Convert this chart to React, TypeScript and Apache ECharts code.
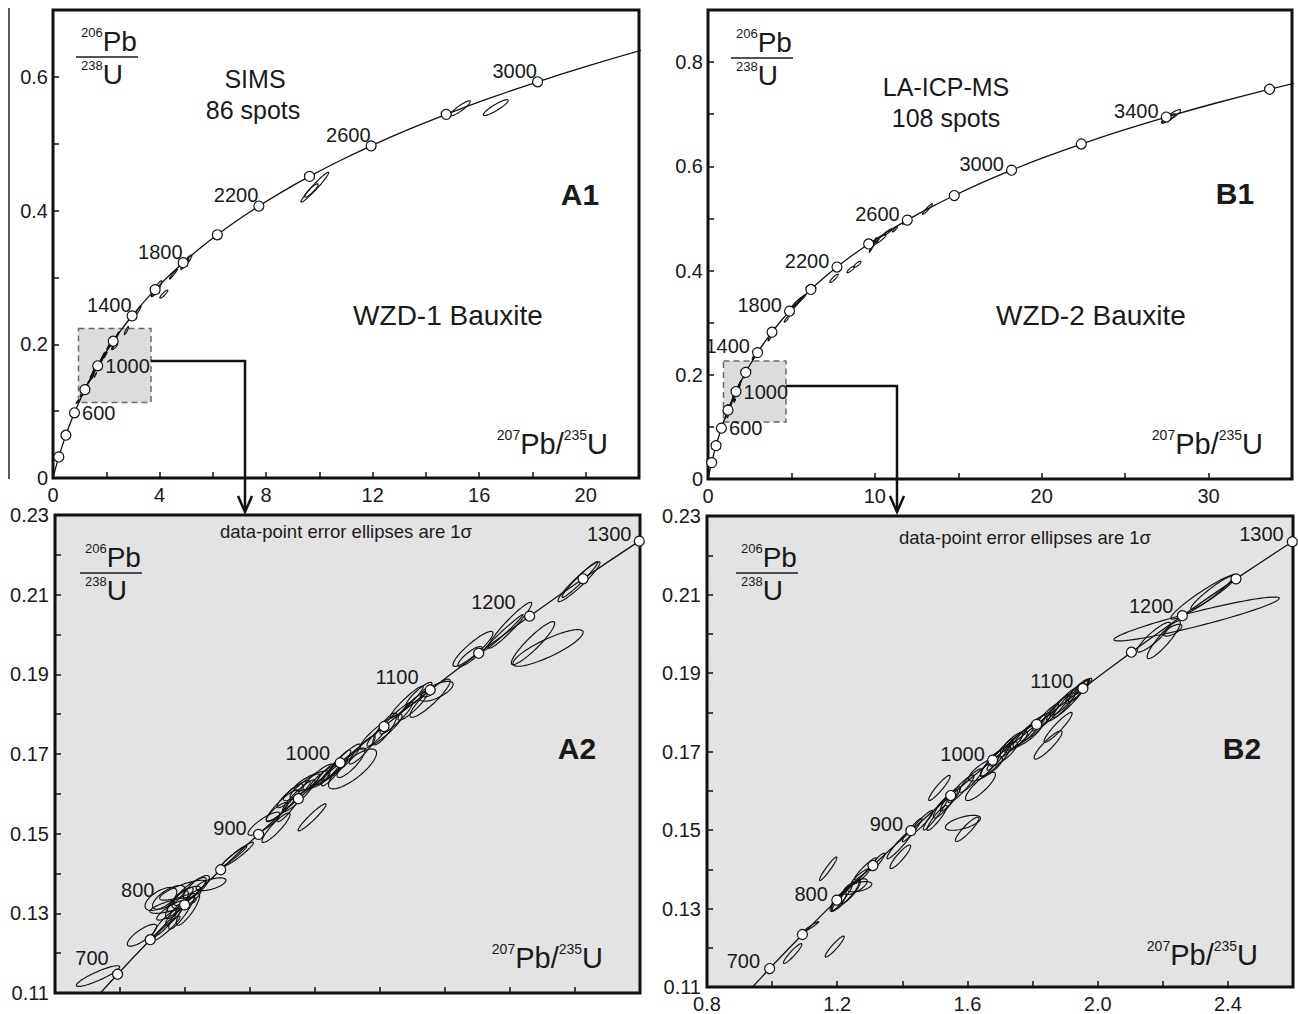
import React, { useEffect, useRef } from 'react';
import * as echarts from 'echarts';

const FONT = '"Liberation Sans", Arial, Helvetica, sans-serif';
const INK = '#1a1a1a';

// ---- Concordia reference points (age in Ma, 207Pb/235U, 206Pb/238U) ----
const concordiaAges = [0, 100, 200, 300, 400, 500, 600, 650, 700, 750, 800, 850, 900, 950, 1000, 1050, 1100, 1150, 1200, 1250, 1300, 1350, 1400, 1500, 1600, 1700, 1800, 1900, 2000, 2100, 2200, 2300, 2400, 2500, 2600, 2700, 2800, 2900, 3000, 3100, 3200, 3300, 3400, 3500, 3600, 3700, 3800];
const concordiaPb207U235 = [0, 0.1035, 0.21771, 0.34374, 0.48281, 0.63628, 0.80567, 0.89677, 0.99251, 1.09308, 1.19873, 1.30971, 1.4263, 1.54876, 1.67738, 1.81255, 1.9545, 2.10365, 2.26026, 2.42487, 2.59786, 2.77933, 2.9701, 3.38099, 3.83444, 4.33476, 4.88688, 5.49618, 6.16876, 6.91045, 7.7292, 8.63262, 9.6296, 10.7297, 11.9435, 13.2833, 14.7617, 16.3929, 18.1931, 20.1795, 22.3715, 24.7905, 27.4598, 30.4052, 33.6557, 37.2424, 41.2004];
const concordiaPb206U238 = [0, 0.015633, 0.031511, 0.047638, 0.064016, 0.08065, 0.097544, 0.10609, 0.114702, 0.123382, 0.132129, 0.140944, 0.149829, 0.158781, 0.167804, 0.176897, 0.186061, 0.195296, 0.204603, 0.213982, 0.223435, 0.232961, 0.242562, 0.261987, 0.281716, 0.301754, 0.322104, 0.342773, 0.363766, 0.385087, 0.40674, 0.428732, 0.451068, 0.473752, 0.496794, 0.520193, 0.543959, 0.568097, 0.592611, 0.617508, 0.642797, 0.668478, 0.694563, 0.721056, 0.747962, 0.775288, 0.803042];

const overviewMarkerAges = [200, 400, 600, 800, 1000, 1200, 1400, 1600, 1800, 2000, 2200, 2400, 2600, 2800, 3000, 3200, 3400, 3600];
const zoomMarkerAges = [700, 750, 800, 850, 900, 950, 1000, 1050, 1100, 1150, 1200, 1250, 1300];
const a1LabelAges = [600, 1000, 1400, 1800, 2200, 2600, 3000];
const b1LabelAges = [600, 1000, 1400, 1800, 2200, 2600, 3000, 3400];
const zoomLabelAges = [700, 800, 900, 1000, 1100, 1200, 1300];

// ---- Error ellipses: [207Pb/235U, 206Pb/238U, sigma x, sigma y, rho] ----
const wzd1ZoomSpots = [
  [0.9323, 0.11425, 0.0667, 0.0026, 0.89],
  [1.0677, 0.1245, 0.0452, 0.00275, 0.8],
  [1.1446, 0.12625, 0.04, 0.003, 0.95],
  [1.126, 0.1336, 0.049, 0.0029, 0.6],
  [1.163, 0.132, 0.071, 0.002, 0.75],
  [1.194, 0.1358, 0.072, 0.0025, 0.8],
  [1.159, 0.1308, 0.046, 0.0025, 0.85],
  [1.209, 0.131, 0.036, 0.004, 0.85],
  [1.138, 0.1275, 0.037, 0.0033, 0.9],
  [1.185, 0.1335, 0.04, 0.003, 0.85],
  [1.175, 0.1322, 0.035, 0.0035, 0.8],
  [1.205, 0.134, 0.045, 0.0028, 0.7],
  [1.17, 0.13, 0.03, 0.003, 0.9],
  [1.215, 0.1355, 0.05, 0.0035, 0.85],
  [1.19, 0.1305, 0.04, 0.0045, 0.9],
  [1.15, 0.134, 0.05, 0.003, 0.7],
  [1.235, 0.1365, 0.04, 0.003, 0.8],
  [1.28, 0.1373, 0.046, 0.0016, 0.6],
  [1.3615, 0.14475, 0.049, 0.0031, 0.95],
  [1.35, 0.1443, 0.04, 0.0026, 0.97],
  [1.443, 0.1525, 0.049, 0.0029, 0.85],
  [1.48, 0.1515, 0.043, 0.0037, 0.9],
  [1.483, 0.1555, 0.033, 0.0023, 0.85],
  [1.5, 0.157, 0.05, 0.004, 0.9],
  [1.52, 0.1565, 0.035, 0.0035, 0.93],
  [1.523, 0.1595, 0.04, 0.003, 0.9],
  [1.544, 0.16075, 0.041, 0.0025, 0.85],
  [1.55, 0.1595, 0.05, 0.004, 0.92],
  [1.591, 0.1541, 0.043, 0.0034, 0.95],
  [1.569, 0.162, 0.046, 0.003, 0.9],
  [1.609, 0.16425, 0.046, 0.0032, 0.9],
  [1.64, 0.16525, 0.037, 0.003, 0.9],
  [1.591, 0.16325, 0.055, 0.0025, 0.8],
  [1.7154, 0.16625, 0.074, 0.005, 0.8],
  [1.711, 0.1678, 0.043, 0.0037, 0.85],
  [1.631, 0.1645, 0.046, 0.003, 0.9],
  [1.66, 0.166, 0.04, 0.0028, 0.92],
  [1.69, 0.1685, 0.05, 0.004, 0.92],
  [1.665, 0.1665, 0.045, 0.0045, 0.93],
  [1.745, 0.171, 0.04, 0.0035, 0.9],
  [1.803, 0.1756, 0.065, 0.0044, 0.9],
  [1.815, 0.1763, 0.037, 0.004, 0.85],
  [1.79, 0.1745, 0.03, 0.0025, 0.9],
  [1.85, 0.179, 0.05, 0.004, 0.93],
  [1.882, 0.18305, 0.051, 0.004, 0.95],
  [1.9, 0.182, 0.045, 0.0035, 0.9],
  [1.954, 0.184, 0.062, 0.0048, 0.9],
  [1.974, 0.18575, 0.051, 0.0025, 0.7],
  [1.948, 0.1856, 0.0215, 0.00125, 0.5],
  [1.92, 0.185, 0.04, 0.003, 0.9],
  [2.086, 0.19638, 0.0615, 0.0044, 0.9],
  [2.077, 0.1945, 0.037, 0.0025, 0.85],
  [2.2, 0.20233, 0.0667, 0.00575, 0.95],
  [2.18, 0.2005, 0.06, 0.0045, 0.99],
  [2.2708, 0.19783, 0.0667, 0.0054, 0.92],
  [2.317, 0.19663, 0.108, 0.0046, 0.85],
  [2.4123, 0.21325, 0.0646, 0.005, 0.95],
  [2.415, 0.2138, 0.055, 0.0045, 0.97],
];
const wzd1OlderSpots = [
  [5.01, 0.3234, 0.2, 0.01, 0.9],
  [4.95, 0.32, 0.15, 0.008, 0.95],
  [4.52, 0.305, 0.15, 0.0075, 0.97],
  [3.89, 0.283, 0.2, 0.012, 0.9],
  [3.8, 0.28, 0.12, 0.008, 0.9],
  [4.16, 0.275, 0.15, 0.006, 0.9],
  [3.19, 0.25, 0.12, 0.008, 0.95],
  [2.755, 0.2205, 0.08, 0.006, 0.9],
  [9.83, 0.435, 0.52, 0.0224, 0.97],
  [9.7, 0.43, 0.25, 0.01, 0.9],
  [15.29, 0.553, 0.374, 0.0112, 0.9],
  [16.62, 0.554, 0.467, 0.0119, 0.9],
];
const wzd2ZoomSpots = [
  [1.063, 0.11852, 0.0283, 0.00254, 0.93],
  [1.1923, 0.1203, 0.0292, 0.00267, 0.93],
  [1.12, 0.12538, 0.023, 0.00127, 0.97],
  [1.1723, 0.14013, 0.0267, 0.003, 0.95],
  [1.2246, 0.13327, 0.043, 0.0038, 0.9],
  [1.24, 0.13428, 0.031, 0.003, 0.85],
  [1.203, 0.13174, 0.025, 0.0025, 0.8],
  [1.2554, 0.13555, 0.037, 0.002, 0.7],
  [1.2677, 0.13555, 0.0385, 0.0013, 0.5],
  [1.2154, 0.1328, 0.031, 0.0033, 0.95],
  [1.2862, 0.14013, 0.034, 0.0028, 0.95],
  [1.2708, 0.1381, 0.028, 0.002, 0.9],
  [1.323, 0.1419, 0.023, 0.0022, 0.9],
  [1.3938, 0.14649, 0.041, 0.0038, 0.95],
  [1.3938, 0.14318, 0.0317, 0.003, 0.9],
  [1.43, 0.15, 0.03, 0.003, 0.95],
  [1.46, 0.152, 0.035, 0.003, 0.93],
  [1.5068, 0.1531, 0.031, 0.0032, 0.92],
  [1.5862, 0.15183, 0.054, 0.0019, 0.6],
  [1.599, 0.15017, 0.036, 0.0031, 0.9],
  [1.5015, 0.1541, 0.037, 0.0041, 0.95],
  [1.5323, 0.15665, 0.037, 0.0036, 0.9],
  [1.5477, 0.15793, 0.031, 0.0031, 0.9],
  [1.5138, 0.16072, 0.033, 0.0032, 0.93],
  [1.58, 0.1605, 0.04, 0.0035, 0.92],
  [1.61, 0.1626, 0.035, 0.003, 0.9],
  [1.64, 0.16111, 0.046, 0.0036, 0.85],
  [1.6554, 0.16556, 0.052, 0.0031, 0.8],
  [1.6862, 0.16759, 0.046, 0.0038, 0.9],
  [1.7108, 0.16937, 0.043, 0.0031, 0.85],
  [1.6708, 0.16683, 0.031, 0.0033, 0.9],
  [1.7, 0.1692, 0.04, 0.004, 0.95],
  [1.735, 0.1716, 0.035, 0.003, 0.92],
  [1.76, 0.1732, 0.045, 0.0035, 0.93],
  [1.7785, 0.17395, 0.049, 0.0031, 0.85],
  [1.8092, 0.17624, 0.046, 0.0036, 0.9],
  [1.7477, 0.17268, 0.037, 0.0025, 0.8],
  [1.79, 0.1752, 0.05, 0.004, 0.93],
  [1.8477, 0.17166, 0.043, 0.0036, 0.9],
  [1.8785, 0.17616, 0.043, 0.0038, 0.93],
  [1.84, 0.1787, 0.04, 0.0035, 0.94],
  [1.87, 0.1806, 0.045, 0.004, 0.95],
  [1.9, 0.1828, 0.04, 0.0035, 0.92],
  [1.9169, 0.18335, 0.055, 0.0048, 0.95],
  [1.9385, 0.18539, 0.037, 0.0031, 0.9],
  [1.8862, 0.18132, 0.043, 0.0036, 0.9],
  [1.94, 0.1853, 0.03, 0.0028, 0.93],
  [1.957, 0.18666, 0.025, 0.002, 0.9],
  [2.304, 0.20377, 0.254, 0.0056, 0.94],
  [2.3262, 0.20942, 0.1015, 0.0057, 0.95],
  [2.3508, 0.21048, 0.0646, 0.0042, 0.95],
  [2.203, 0.19848, 0.051, 0.0048, 0.9],
  [2.1723, 0.19912, 0.051, 0.0038, 0.9],
  [2.2308, 0.2009, 0.028, 0.0015, 0.7],
];
const wzd2OlderSpots = [
  [5.16, 0.332, 0.45, 0.016, 0.97],
  [5.46, 0.342, 0.4, 0.012, 0.97],
  [4.72, 0.307, 0.15, 0.006, 0.9],
  [3.85, 0.283, 0.15, 0.008, 0.9],
  [3.72, 0.272, 0.12, 0.007, 0.9],
  [2.75, 0.235, 0.1, 0.006, 0.9],
  [7.55, 0.385, 0.25, 0.008, 0.9],
  [8.55, 0.402, 0.22, 0.006, 0.85],
  [8.95, 0.412, 0.22, 0.006, 0.85],
  [9.88, 0.449, 0.22, 0.014, 0.97],
  [10.06, 0.455, 0.2, 0.008, 0.9],
  [10.36, 0.4607, 0.3, 0.008, 0.9],
  [10.78, 0.474, 0.25, 0.006, 0.9],
  [11.2, 0.479, 0.15, 0.005, 0.9],
  [11.9, 0.497, 0.25, 0.008, 0.9],
  [13.15, 0.518, 0.3, 0.0101, 0.95],
  [27.75, 0.696, 0.57, 0.0128, 0.9],
  [27.6, 0.692, 0.4, 0.009, 0.9],
];

// ---- label placement (style only) ----
const leftUp = (dx: number, dy: number) => ({ position: [dx, dy], align: 'right', verticalAlign: 'middle' });
const rightSide = { position: 'right', distance: 2 };
const placementA1: Record<number, any> = { 600: rightSide, 1000: rightSide };
const defaultA1 = leftUp(5, -5.5);
const placementB1: Record<number, any> = { 600: rightSide, 1000: rightSide };
const defaultB1 = leftUp(-2, -0.5);
const placementA2: Record<number, any> = {
  700: leftUp(-3.3, -10.8), 800: leftUp(-24.6, -9), 900: leftUp(-6.3, -0.5), 1000: leftUp(-4.5, -3.7),
  1100: leftUp(-6, -7.4), 1200: leftUp(-8.3, -8.4), 1300: leftUp(-2.3, -1.9),
};
const placementB2: Record<number, any> = {
  700: leftUp(-4, -1.5), 800: leftUp(-3.4, -0.9), 900: leftUp(-2.2, -0.7), 1000: leftUp(-2.2, -0.5),
  1100: leftUp(-3.9, -1.8), 1200: leftUp(-3.3, -3.9), 1300: leftUp(-3, -1.7),
};

const concordiaData = concordiaAges.map((a, i) => [concordiaPb207U235[i], concordiaPb206U238[i]]);
const pointAt = (age: number) => {
  const i = concordiaAges.indexOf(age);
  return [concordiaPb207U235[i], concordiaPb206U238[i]];
};

function renderEllipse(params: any, api: any) {
  const cx = api.value(0), cy = api.value(1), sx = api.value(2), sy = api.value(3), r = api.value(4);
  const k = Math.sqrt(Math.max(0, 1 - r * r));
  const pts: number[][] = [];
  const n = 72;
  for (let i = 0; i < n; i++) {
    const t = (i / n) * Math.PI * 2;
    const c = Math.cos(t), s = Math.sin(t);
    pts.push(api.coord([cx + sx * c, cy + sy * (r * c + k * s)]));
  }
  return { type: 'polygon', shape: { points: pts }, style: { fill: 'none', stroke: '#111', lineWidth: 1.15 } };
}

function panelSeries(idx: number, spots: number[][], markerAges: number[], labelAges: number[], placement: Record<number, any>, dflt: any) {
  return [
    {
      type: 'line', xAxisIndex: idx, yAxisIndex: idx, data: concordiaData, showSymbol: false, smooth: 0.3,
      lineStyle: { color: '#111', width: 1.3 }, z: 2, silent: true, clip: true,
    },
    {
      type: 'custom', xAxisIndex: idx, yAxisIndex: idx, data: spots, renderItem: renderEllipse,
      encode: { x: 0, y: 1 }, z: 3, silent: true, clip: true,
    },
    {
      type: 'scatter', xAxisIndex: idx, yAxisIndex: idx, symbol: 'circle', symbolSize: 10, z: 5, silent: true,
      itemStyle: { color: '#fff', borderColor: '#111', borderWidth: 1.2, opacity: 1 },
      label: { show: false, fontFamily: FONT, fontSize: 20, color: INK },
      data: markerAges.map((age) => {
        const item: any = { value: pointAt(age) };
        if (labelAges.includes(age)) {
          item.label = { show: true, formatter: String(age), ...(placement[age] || dflt) };
        }
        return item;
      }),
    },
  ];
}

const tickStyle = { show: true, inside: true, length: 6, lineStyle: { color: '#111', width: 1.5 } };
const labelBase = { fontFamily: FONT, fontSize: 20, color: INK };

function txt(x: number, y: number, text: string, fontSize: number, align = 'center', weight = 'normal') {
  return {
    type: 'text', x, y, z: 100, silent: true,
    style: { text, fontSize, fontFamily: FONT, fontWeight: weight, fill: INK, align, verticalAlign: 'middle', textAlign: align, textVerticalAlign: 'middle' },
  };
}
function iso(x: number, y: number, text: string, align = 'left', sup = 13, big = 27) {
  return {
    type: 'text', x, y, z: 100, silent: true,
    style: {
      text, align, verticalAlign: 'middle', textAlign: align, textVerticalAlign: 'middle', fontFamily: FONT, fill: INK,
      rich: {
        s: { fontSize: sup, lineHeight: sup + 6, verticalAlign: 'top', fontFamily: FONT, fill: INK },
        b: { fontSize: big, lineHeight: big + 3, fontFamily: FONT, fill: INK },
      },
    },
  };
}
function fraction(x0: number, y0: number) {
  return [
    iso(x0 + 5, y0 - 16, '{s|206}{b|Pb}', 'left', 13, 28),
    { type: 'line', z: 100, silent: true, shape: { x1: x0, y1: y0, x2: x0 + 62, y2: y0 }, style: { stroke: INK, lineWidth: 1.6 } },
    iso(x0 + 5, y0 + 17, '{s|238}{b|U}', 'left', 13, 28),
  ];
}
function xName(xRight: number, y: number) {
  return iso(xRight, y, '{s|207}{b|Pb/}{s|235}{b|U}', 'right', 14, 29);
}
function arrowHead(x: number, yTip: number) {
  return { type: 'polyline', z: 60, silent: true, shape: { points: [[x - 7, yTip - 16], [x, yTip], [x + 7, yTip - 16]] }, style: { stroke: '#111', lineWidth: 2.5, fill: 'none' } };
}

export default function App() {
  const ref = useRef<HTMLDivElement>(null);
  useEffect(() => {
    const chart = echarts.init(ref.current as HTMLDivElement, null, { renderer: 'svg' });
    const grids = [
      { left: 53, top: 10, width: 586, height: 468 },
      { left: 708, top: 10, width: 584, height: 469 },
      { left: 55, top: 515, width: 585, height: 478, backgroundColor: '#e3e3e3' },
      { left: 707, top: 516, width: 586, height: 472.5, backgroundColor: '#e3e3e3' },
    ].map((g) => ({ show: true, borderColor: '#111', borderWidth: 3, backgroundColor: 'transparent', ...g }));

    const evenTenths = (v: number) => { const k = Math.round(v * 10); return k % 2 === 0 ? (k === 0 ? '0' : (k / 10).toFixed(1)) : ''; };
    const oddHundredths = (v: number) => (Math.round(v * 100) % 2 === 1 ? v.toFixed(2) : '');

    const option: any = {
      animation: false,
      backgroundColor: '#ffffff',
      grid: grids,
      xAxis: [
        {
          gridIndex: 0, type: 'value', min: 0, max: 22, interval: 2, axisLine: { show: false }, splitLine: { show: false }, axisTick: tickStyle,
          axisLabel: { ...labelBase, margin: 7, formatter: (v: number) => (Math.round(v) % 4 === 0 ? String(Math.round(v)) : '') },
        },
        {
          gridIndex: 1, type: 'value', min: 0, max: 35, interval: 5, axisLine: { show: false }, splitLine: { show: false }, axisTick: tickStyle,
          axisLabel: { ...labelBase, margin: 7, formatter: (v: number) => (Math.round(v) % 10 === 0 ? String(Math.round(v)) : '') },
        },
        {
          gridIndex: 2, type: 'value', min: 0.8, max: 2.6, interval: 0.2, axisLine: { show: false }, splitLine: { show: false }, axisTick: tickStyle,
          axisLabel: { show: false },
        },
        {
          gridIndex: 3, type: 'value', min: 0.8, max: 2.6, interval: 0.2, axisLine: { show: false }, splitLine: { show: false }, axisTick: tickStyle,
          axisLabel: { ...labelBase, margin: 7, formatter: (v: number) => (Math.round(v * 10) % 4 === 0 ? v.toFixed(1) : '') },
        },
      ],
      yAxis: [
        { gridIndex: 0, type: 'value', min: 0, max: 0.7, interval: 0.1, axisLine: { show: false }, splitLine: { show: false }, axisTick: tickStyle, axisLabel: { ...labelBase, margin: 5, formatter: evenTenths } },
        { gridIndex: 1, type: 'value', min: 0, max: 0.9, interval: 0.1, axisLine: { show: false }, splitLine: { show: false }, axisTick: tickStyle, axisLabel: { ...labelBase, margin: 5, formatter: evenTenths } },
        { gridIndex: 2, type: 'value', min: 0.11, max: 0.23, interval: 0.01, axisLine: { show: false }, splitLine: { show: false }, axisTick: tickStyle, axisLabel: { ...labelBase, margin: 6, formatter: oddHundredths } },
        { gridIndex: 3, type: 'value', min: 0.11, max: 0.23, interval: 0.01, axisLine: { show: false }, splitLine: { show: false }, axisTick: tickStyle, axisLabel: { ...labelBase, margin: 6, formatter: oddHundredths } },
      ],
      series: [
        ...panelSeries(0, [...wzd1ZoomSpots, ...wzd1OlderSpots], overviewMarkerAges, a1LabelAges, placementA1, defaultA1),
        ...panelSeries(1, [...wzd2ZoomSpots, ...wzd2OlderSpots], overviewMarkerAges, b1LabelAges, placementB1, defaultB1),
        ...panelSeries(2, wzd1ZoomSpots, zoomMarkerAges, zoomLabelAges, placementA2, leftUp(-4, -4)),
        ...panelSeries(3, wzd2ZoomSpots, zoomMarkerAges, zoomLabelAges, placementB2, leftUp(-3, -1.5)),
      ],
      graphic: {
        elements: [
          { type: 'line', silent: true, z: 50, shape: { x1: 9, y1: 8, x2: 9, y2: 479 }, style: { stroke: '#222', lineWidth: 1.5 } },
          // zoom windows
          { type: 'rect', silent: true, z: 1, shape: { x: 78.5, y: 328.5, width: 72.5, height: 74 }, style: { fill: '#dcdcdc', stroke: '#6a6a6a', lineWidth: 1.5, lineDash: [6, 4] } },
          { type: 'rect', silent: true, z: 1, shape: { x: 723.5, y: 361, width: 62.5, height: 61 }, style: { fill: '#dcdcdc', stroke: '#6a6a6a', lineWidth: 1.5, lineDash: [6, 4] } },
          // connectors
          { type: 'polyline', silent: true, z: 60, shape: { points: [[151, 361], [245, 361], [245, 511]] }, style: { stroke: '#111', lineWidth: 2.5, fill: 'none' } },
          arrowHead(245, 512),
          { type: 'polyline', silent: true, z: 60, shape: { points: [[786, 386], [897, 386], [897, 511]] }, style: { stroke: '#111', lineWidth: 2.5, fill: 'none' } },
          arrowHead(897, 512),
          // panel texts
          ...fraction(76, 57),
          ...fraction(731, 58),
          ...fraction(80, 573),
          ...fraction(736, 573),
          txt(255, 79, 'SIMS', 25),
          txt(253, 110, '86 spots', 25),
          txt(946, 87, 'LA-ICP-MS', 25),
          txt(946, 118, '108 spots', 25),
          txt(580, 194, 'A1', 30, 'center', 'bold'),
          txt(1235, 193, 'B1', 30, 'center', 'bold'),
          txt(577, 748, 'A2', 30, 'center', 'bold'),
          txt(1242, 748, 'B2', 30, 'center', 'bold'),
          txt(448, 315, 'WZD-1 Bauxite', 28),
          txt(1091, 315, 'WZD-2 Bauxite', 28),
          txt(346, 531, 'data-point error ellipses are 1σ', 18.5),
          txt(1025, 537, 'data-point error ellipses are 1σ', 18.5),
          xName(608, 444),
          xName(1263, 444),
          xName(603, 958),
          xName(1258, 955),
        ],
      },
    };
    chart.setOption(option);
    return () => chart.dispose();
  }, []);
  return <div ref={ref} style={{ position: 'absolute', left: 0, top: 0, width: 1298, height: 1014, background: '#fff' }} />;
}
